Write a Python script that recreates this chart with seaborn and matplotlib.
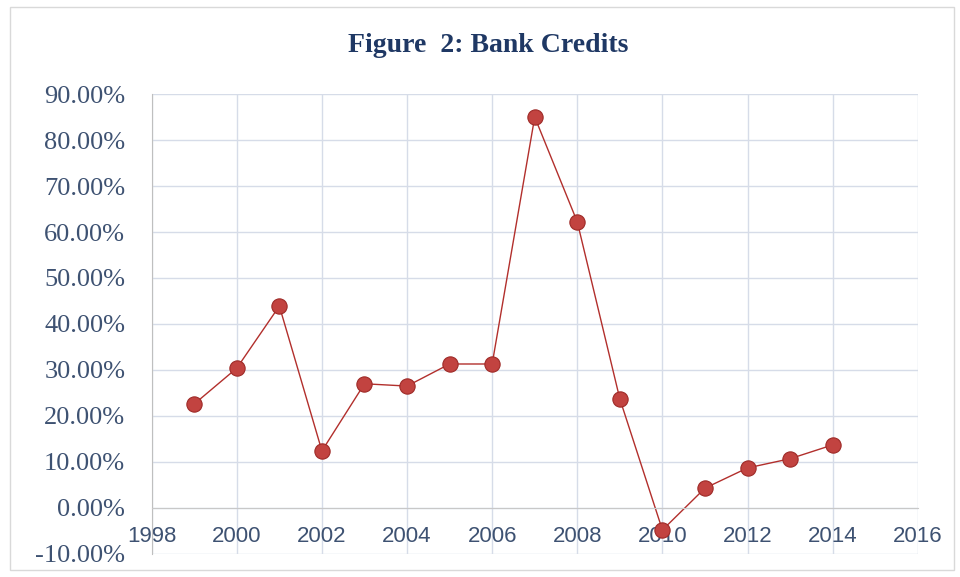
import pandas as pd
import matplotlib
matplotlib.use("Agg")
import matplotlib.pyplot as plt
import seaborn as sns
from matplotlib.patches import Rectangle
from matplotlib.ticker import FuncFormatter, MultipleLocator

# Data
years = [1999, 2000, 2001, 2002, 2003, 2004, 2005, 2006,
         2007, 2008, 2009, 2010, 2011, 2012, 2013, 2014]
credit_growth = [22.6, 30.4, 43.9, 12.4, 27.0, 26.5, 31.3, 31.3,
                 85.0, 62.2, 23.7, -4.8, 4.3, 8.7, 10.7, 13.7]
title = "Figure  2: Bank Credits"

df = pd.DataFrame({"year": years, "credit": credit_growth})

sns.set_style("white")

fig = plt.figure(figsize=(9.6, 5.77), dpi=100)
ax = fig.add_axes([0.158, 0.040, 0.798, 0.797])

# light frame round the whole chart
fig.patches.append(Rectangle((0.010, 0.012), 0.984, 0.976, transform=fig.transFigure,
                             fill=False, edgecolor="#d9d9d9", linewidth=1.0))

grid_col = "#d6dce8"
text_col = "#3e5272"

sns.lineplot(data=df, x="year", y="credit", ax=ax, color="#b22f2c", linewidth=1.0,
             marker="o", markersize=11, markerfacecolor="#c24340",
             markeredgecolor="#9e2a27", markeredgewidth=0.8)

ax.set_xlim(1998, 2016)
ax.set_ylim(-10, 90)
ax.xaxis.set_major_locator(MultipleLocator(2))
ax.yaxis.set_major_locator(MultipleLocator(10))
ax.yaxis.set_major_formatter(FuncFormatter(lambda v, p: f"{v:.2f}%"))
ax.grid(True, color=grid_col, linewidth=1.0)
ax.set_axisbelow(True)

ax.spines["bottom"].set_position(("data", 0))
ax.spines["bottom"].set_color("#c8c8c8")
ax.spines["left"].set_color("#bfbfbf")
ax.spines["top"].set_visible(False)
ax.spines["right"].set_visible(False)

ax.tick_params(axis="x", length=0, pad=13, labelsize=16, labelcolor=text_col)
ax.tick_params(axis="y", length=0, pad=19, labelsize=19, labelcolor=text_col)
for lab in ax.get_yticklabels():
    lab.set_fontfamily("Liberation Serif")
for lab in ax.get_xticklabels():
    lab.set_fontfamily("Liberation Sans")

ax.set_xlabel("")
ax.set_ylabel("")

fig.text(0.509, 0.922, title, ha="center", va="center", fontsize=20,
         fontweight="bold", family="Liberation Serif", color="#1f3864")

fig.savefig("out.png", dpi=100)
